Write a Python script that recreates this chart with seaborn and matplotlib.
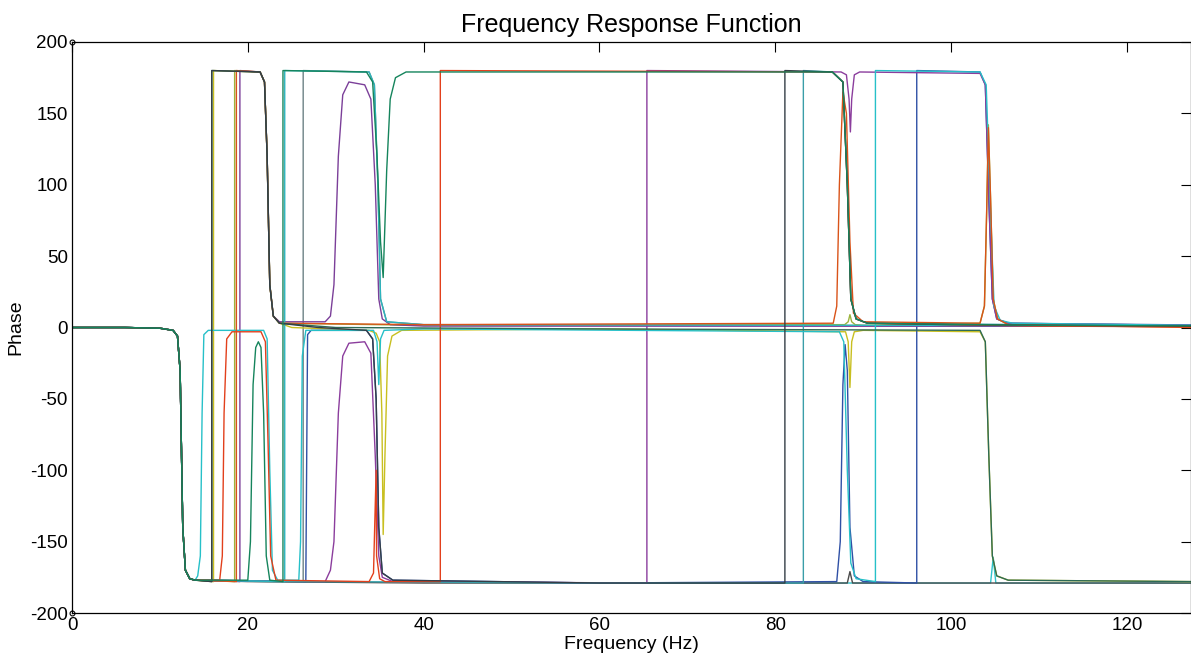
import matplotlib
matplotlib.use("Agg")
import matplotlib.pyplot as plt
import seaborn as sns
import pandas as pd

# every channel shares the flat start and the first mode near 12.5 Hz
start_f = [0, 6, 10, 11.5, 12.0, 12.3, 12.6, 12.9, 13.4, 14]
start_p = [0, 0, -0.5, -2, -6, -30, -140, -170, -176, -177]

# the rest of each channel (Hz, degrees)
dark_f = [15.9, 15.9, 21.4, 21.9, 22.2, 22.5, 22.9, 23.6, 28.0, 33.5, 34.2, 34.6, 34.9, 35.3, 36.5,
          60.0, 81.1, 81.1, 86.5, 87.7, 88.2, 88.6, 89.2, 90.5, 100.0, 127.3]
dark_p = [-178, 180, 179, 172, 120, 30, 8, 3, 0, -2, -8, -50, -140, -172, -177,
          -179, -179, 180, 179, 172, 100, 20, 6, 3, 2, 1]

green_f = [20.0, 20.3, 20.6, 20.9, 21.2, 21.5, 21.8, 22.1, 22.5, 24.0, 24.0, 33.5, 34.2, 34.7,
           35.1, 35.4, 35.8, 36.2, 36.8, 38.0, 86.5, 87.7, 88.2, 88.6, 89.2, 90.5, 110.0, 127.3]
green_p = [-177, -150, -40, -14, -10, -14, -60, -160, -177, -178, 180, 179, 172, 120,
           60, 35, 110, 160, 175, 179, 179, 172, 100, 20, 6, 3, 1.5, 1.2]

red_f = [16.8, 17.1, 17.3, 17.6, 18.2, 21.5, 22.0, 22.3, 22.6, 23.2, 33.8, 34.3, 34.6, 34.65,
         35.0, 35.6, 41.9, 41.9, 86.5, 87.7, 88.2, 88.6, 89.2, 90.5, 110.0, 127.3]
red_p = [-177, -160, -60, -8, -3, -3, -10, -80, -160, -177, -178, -172, -100, -160,
         -176, -178, -178, 180, 179, 172, 100, 20, 6, 3, 1, 0.5]

orange_f = [18.7, 18.7, 21.4, 21.9, 22.2, 22.5, 22.9, 23.6, 40.0, 86.6, 87.0, 87.3, 87.7, 88.1,
            88.5, 88.9, 90.0, 103.3, 103.8, 104.05, 104.25, 104.5, 104.8, 105.3, 106.5, 127.3]
orange_p = [-178, 180, 179, 172, 120, 30, 8, 3, 2, 3, 15, 100, 165, 150,
            60, 10, 4, 3, 15, 80, 140, 90, 20, 6, 2, 0]

cyan_f = [14.3, 14.6, 14.8, 15.0, 15.5, 21.8, 22.2, 22.5, 22.8, 23.4, 25.8, 26.0, 26.2, 26.6,
          34.3, 34.7, 34.9, 35.1, 35.5, 40.0, 87.3, 87.8, 88.2, 88.6, 89.2, 91.4, 91.4,
          103.3, 104.0, 104.5, 104.9, 105.6, 107.0, 127.3]
cyan_p = [-174, -160, -60, -5, -2, -2, -8, -100, -170, -177, -177, -150, -20, -2,
          -2, -10, -40, -8, -2, -1, -3, -10, -100, -165, -176, -178, 180,
          179, 170, 80, 15, 5, 3, 1.5]

cyan2_f = [24.2, 24.2, 33.8, 34.4, 34.8, 35.1, 35.8, 40.0, 127.3]
cyan2_p = [-178, 180, 179, 170, 100, 20, 4, 2, 1.2]

teal_f = [26.0, 60.0, 83.2, 83.2, 86.5, 87.7, 88.2, 88.6, 89.2, 90.5, 127.3]
teal_p = [-178, -179, -179, 180, 179, 172, 100, 20, 6, 3, 1]

purple_f = [28.8, 29.4, 29.8, 30.3, 30.8, 31.5, 33.3, 34.0, 34.5, 34.9, 35.3, 36.5, 65.4, 65.4,
            87.5, 88.1, 88.4, 88.55, 88.7, 89.0, 89.6, 103.3, 103.9, 104.3, 104.7, 105.2, 106.5, 127.3]
purple_p = [-178, -170, -150, -60, -20, -11, -10, -18, -90, -160, -175, -178, -179, 180,
            179, 177, 160, 137, 160, 177, 179, 178, 170, 90, 20, 6, 3, 1.5]

purple2_f = [19.1, 19.1, 21.4, 21.9, 22.2, 22.5, 22.9, 23.6, 28.8, 29.4, 29.8, 30.3, 30.8, 31.5,
             33.3, 34.0, 34.5, 34.9, 35.3, 36.2, 40.0, 127.3]
purple2_p = [-178, 180, 179, 172, 120, 30, 8, 4, 4, 8, 30, 120, 163, 172,
             170, 160, 100, 20, 6, 2, 1, 0.8]

blue_f = [26.6, 26.8, 27.2, 33.5, 34.2, 34.6, 34.9, 35.3, 36.5, 60.0, 87.0, 87.4, 87.7, 87.95,
          88.2, 88.5, 89.0, 90.0, 96.1, 96.1, 103.3, 103.9, 104.3, 104.7, 105.2, 106.5, 127.3]
blue_p = [-178, -5, -2, -2, -8, -50, -140, -172, -177, -179, -178, -150, -40, -12,
          -30, -140, -174, -178, -179, 180, 179, 170, 90, 20, 6, 3, 1.8]

yellow_f = [16.1, 16.1, 21.4, 21.9, 22.2, 22.5, 22.9, 23.6, 25.0, 33.8, 34.6, 35.0, 35.25, 35.4,
            35.6, 35.9, 36.4, 37.5, 60.0, 88.0, 88.3, 88.5, 88.7, 89.0, 90.0, 103.3, 103.9,
            104.3, 104.7, 105.2, 106.5, 127.3]
yellow_p = [-178, 180, 179, 172, 120, 30, 8, 3, 0, -2, -4, -10, -60, -145,
            -90, -20, -6, -2, -1, -3, -10, -42, -10, -3, -2, -3, -10,
            -90, -160, -174, -177, -178]

olive_f = [18.5, 18.5, 21.4, 21.9, 22.2, 22.5, 22.9, 23.6, 40.0, 87.9, 88.3, 88.5, 88.7, 89.1,
           90.0, 103.3, 103.8, 104.05, 104.25, 104.5, 104.8, 105.3, 106.5, 127.3]
olive_p = [-178, 180, 179, 172, 120, 30, 8, 3, 1.5, 2, 4, 9, 4, 2,
           1.5, 3, 15, 80, 142, 90, 20, 6, 2, 1]

grey_f = [26.3, 26.3, 33.8, 34.4, 34.8, 35.1, 35.8, 40.0, 127.3]
grey_p = [-178, 180, 179, 170, 100, 20, 4, 2, 1]

black_f = [20.0, 40.0, 88.2, 88.5, 88.8, 127.3]
black_p = [-178, -179, -179, -171, -179, -179]

cyan3_f = [22.0, 60.0, 104.5, 104.8, 105.1, 127.3]
cyan3_p = [-178, -179, -179, -161, -179, -179]

dkgreen_f = [15.9, 15.9, 21.4, 21.9, 22.2, 22.5, 22.9, 23.6, 30.0, 60.0, 103.3, 103.9, 104.3,
             104.7, 105.2, 106.5, 127.3]
dkgreen_p = [-178, 180, 179, 172, 120, 30, 8, 3, 0, -1, -2, -10, -90,
             -160, -174, -177, -178]

# drawing order (last on top) and colours
channels = [
    ("cyan3", "#30c4cc", cyan3_f, cyan3_p),
    ("black", "#4a4a4a", black_f, black_p),
    ("grey", "#6d8286", grey_f, grey_p),
    ("olive", "#9cb43c", olive_f, olive_p),
    ("yellow", "#c8bf20", yellow_f, yellow_p),
    ("blue", "#2f50a5", blue_f, blue_p),
    ("purple2", "#7b3f99", purple2_f, purple2_p),
    ("purple", "#8b3d9d", purple_f, purple_p),
    ("teal", "#3a9ea8", teal_f, teal_p),
    ("cyan2", "#2cb5be", cyan2_f, cyan2_p),
    ("cyan", "#26c0c8", cyan_f, cyan_p),
    ("orange", "#d95319", orange_f, orange_p),
    ("red", "#e2401c", red_f, red_p),
    ("dkgreen", "#2d6b55", dkgreen_f, dkgreen_p),
    ("dark", "#343e46", dark_f, dark_p),
    ("green", "#15845c", green_f, green_p),
]

frames = []
for name, col, f, p in channels:
    frames.append(pd.DataFrame({"freq": start_f + f, "phase": start_p + p, "ch": name}))
df = pd.concat(frames, ignore_index=True)
palette = {name: col for name, col, _, _ in channels}

sns.set_style("white")
plt.rcParams["font.family"] = ["Liberation Sans", "DejaVu Sans"]
plt.rcParams["axes.unicode_minus"] = False
plt.rcParams["text.color"] = "black"
plt.rcParams["axes.labelcolor"] = "black"

fig = plt.figure(figsize=(11.91, 6.61), dpi=100)
ax = fig.add_axes([72 / 1191, 48 / 661, 1119 / 1191, 571 / 661])

sns.lineplot(data=df, x="freq", y="phase", hue="ch", palette=palette,
             estimator=None, sort=False, legend=False, linewidth=1.0, ax=ax)

ax.set_xlim(0, 127.3)
ax.set_ylim(-200, 200)
ax.set_xticks(range(0, 121, 20))
ax.set_yticks(range(-200, 201, 50))
ax.tick_params(direction="in", length=7, width=0.8, colors="black",
               top=True, right=True, labelsize=13.5, pad=3)
for s in ax.spines.values():
    s.set_color("black")
    s.set_linewidth(0.9)

# small open markers MATLAB left at the axis corners
ax.plot([0, 0], [200, -200], "o", ms=3.5, mfc="white", mec="black", mew=0.8, clip_on=False)

ax.set_xlabel("Frequency (Hz)", fontsize=14, labelpad=1, color="black")
ax.set_ylabel("Phase", fontsize=14, labelpad=4, color="black")
ax.set_title("Frequency Response Function", fontsize=18, pad=7, color="black")

fig.savefig("out.png", dpi=100)
